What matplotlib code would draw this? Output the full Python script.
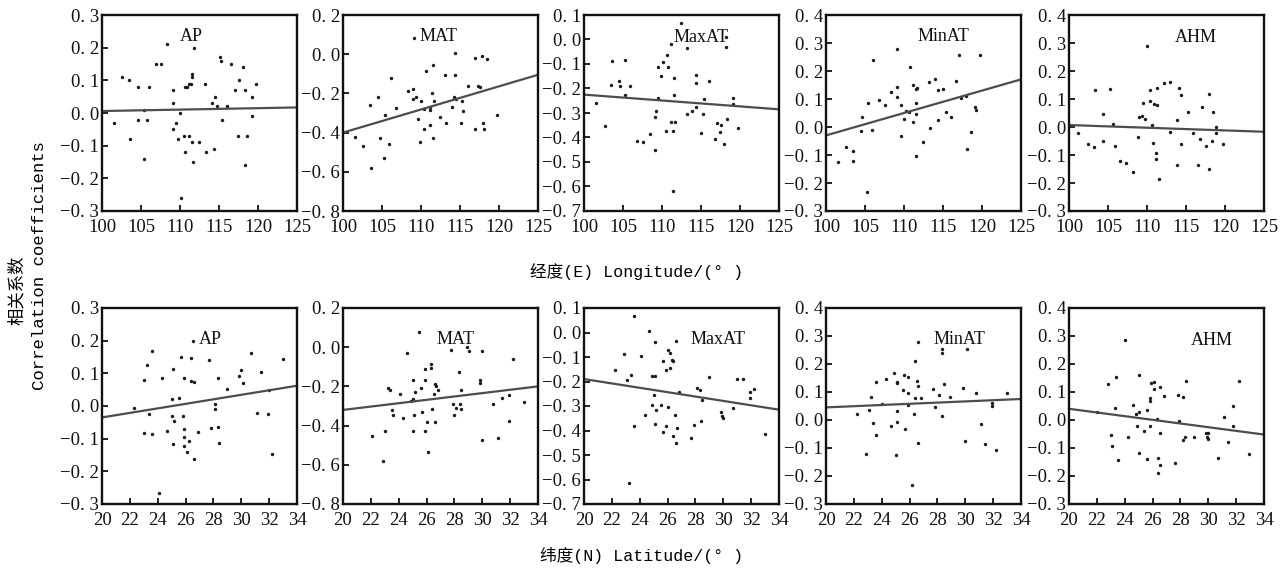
import numpy as np
import matplotlib
matplotlib.use("Agg")
import matplotlib.pyplot as plt
from matplotlib.ticker import FuncFormatter

# --- dados (correlacao vs longitude / latitude) ---
names = ["AP", "MAT", "MaxAT", "MinAT", "AHM"]

# longitude (E)
ap_lon_x = [101.5, 102.6, 103.5, 103.6, 104.6, 104.6, 105.4, 105.4, 105.8, 106.0, 106.9, 107.6, 108.3, 109.1, 109.1,
            109.1, 109.5, 109.7, 110.0, 110.1, 110.5, 110.6, 110.7, 110.9, 111.2, 111.2, 111.4, 111.5, 111.5, 111.6,
            111.7, 111.8, 112.4, 113.2, 113.3, 114.1, 114.4, 114.5, 114.8, 115.1, 115.3, 115.4, 116.0, 116.6, 117.0,
            117.4, 117.6, 118.1, 118.3, 118.3, 118.6, 119.2, 119.2, 119.8]
ap_lon_r = [-0.03, 0.11, 0.10, -0.08, 0.08, -0.02, 0.01, -0.14, -0.02, 0.08, 0.15, 0.15, 0.21, 0.07, 0.03,
            -0.05, -0.03, -0.08, 0.00, -0.26, -0.07, -0.12, 0.08, 0.08, -0.07, 0.09, 0.09, 0.12, 0.11, -0.09,
            -0.15, 0.20, -0.09, 0.09, -0.12, 0.03, -0.11, 0.05, 0.02, 0.17, 0.16, -0.02, 0.02, 0.15, 0.07,
            -0.07, 0.10, 0.14, 0.07, -0.16, -0.07, 0.05, -0.01, 0.09]

mat_lon_x = [109.1, 114.4, 116.9, 117.8, 118.5, 111.5, 110.6, 113.1, 114.4, 106.1, 116.0, 117.3, 117.5, 108.3, 109.0,
             111.4, 109.0, 109.4, 104.5, 110.0, 111.7, 114.2, 114.5, 115.3, 103.4, 106.8, 110.4, 111.2, 114.0, 115.4,
             105.4, 109.6, 111.1, 112.4, 111.2, 113.2, 115.1, 119.8, 110.4, 118.1, 118.0, 116.9, 111.6, 101.5, 104.7,
             109.9, 102.6, 105.9, 105.3, 103.6]
mat_lon_r = [0.085, 0.006, -0.017, -0.01, -0.027, -0.056, -0.087, -0.104, -0.107, -0.12, -0.163, -0.163, -0.167, -0.19, -0.18,
             -0.20, -0.23, -0.22, -0.22, -0.24, -0.24, -0.22, -0.23, -0.24, -0.26, -0.275, -0.28, -0.27, -0.27, -0.29,
             -0.31, -0.33, -0.285, -0.32, -0.36, -0.35, -0.35, -0.31, -0.38, -0.38, -0.35, -0.38, -0.425, -0.42, -0.425,
             -0.45, -0.47, -0.46, -0.53, -0.58]

maxat_lon_x = [112.4, 111.2, 113.2, 118.2, 118.2, 110.6, 103.6, 105.3, 110.1, 109.5, 110.8, 109.9, 111.5, 114.4, 114.4,
               116.0, 104.5, 104.6, 103.5, 105.9, 105.3, 111.5, 109.5, 115.4, 119.1, 119.1, 101.5, 114.4, 113.9, 113.2,
               115.3, 109.2, 109.1, 118.3, 111.2, 111.7, 117.0, 117.6, 117.4, 119.8, 102.7, 110.5, 111.4, 115.0, 108.4,
               106.8, 107.6, 109.1, 118.0, 116.8, 111.4]
maxat_lon_r = [0.067, -0.017, -0.035, 0.01, -0.03, -0.064, -0.089, -0.082, -0.092, -0.112, -0.112, -0.15, -0.157, -0.145, -0.177,
               -0.17, -0.17, -0.19, -0.187, -0.188, -0.225, -0.227, -0.238, -0.242, -0.238, -0.265, -0.26, -0.275, -0.293, -0.305,
               -0.306, -0.293, -0.318, -0.324, -0.336, -0.336, -0.34, -0.35, -0.377, -0.36, -0.352, -0.374, -0.374, -0.38, -0.386,
               -0.414, -0.42, -0.45, -0.427, -0.405, -0.617]

minat_lon_x = [109.1, 106.0, 117.1, 119.8, 110.8, 113.2, 114.0, 116.7, 111.2, 111.7, 111.5, 114.3, 115.0, 108.3, 109.1,
               109.1, 106.8, 105.4, 107.5, 111.5, 109.6, 110.2, 110.6, 111.6, 115.4, 118.0, 117.3, 119.1, 119.2, 104.6,
               110.0, 111.2, 114.4, 116.0, 104.5, 105.9, 113.3, 118.6, 109.6, 112.4, 102.6, 103.4, 118.1, 111.6, 101.5,
               103.5, 105.3]
minat_lon_r = [0.28, 0.241, 0.256, 0.256, 0.213, 0.160, 0.172, 0.164, 0.149, 0.141, 0.134, 0.131, 0.135, 0.124, 0.142,
               0.108, 0.096, 0.086, 0.079, 0.084, 0.080, 0.058, 0.052, 0.048, 0.054, 0.112, 0.104, 0.072, 0.061, 0.037,
               0.030, 0.017, 0.026, 0.035, -0.014, -0.010, -0.005, -0.017, -0.033, -0.055, -0.071, -0.084, -0.080, -0.105, -0.125,
               -0.123, -0.231]

ahm_lon_x = [110.0, 113.0, 112.2, 111.3, 114.1, 110.4, 103.3, 105.2, 118.0, 114.3, 109.5, 110.4, 110.9, 111.3, 117.1,
             104.3, 115.2, 118.5, 109.0, 109.4, 109.7, 113.8, 105.7, 110.6, 118.9, 101.2, 113.0, 115.9, 118.9, 116.8,
             108.9, 118.3, 104.3, 102.4, 103.2, 110.8, 114.3, 119.7, 105.9, 117.5, 111.2, 111.2, 106.6, 107.3, 108.2,
             113.9, 116.5, 117.9, 111.6]
ahm_lon_r = [0.289, 0.161, 0.158, 0.141, 0.141, 0.131, 0.131, 0.136, 0.118, 0.114, 0.087, 0.092, 0.083, 0.079, 0.070,
             0.048, 0.053, 0.053, 0.036, 0.039, 0.030, 0.024, 0.010, 0.007, -0.001, -0.021, -0.018, -0.021, -0.022, -0.043,
             -0.036, -0.050, -0.049, -0.061, -0.072, -0.058, -0.061, -0.059, -0.068, -0.068, -0.092, -0.116, -0.121, -0.130, -0.160,
             -0.136, -0.136, -0.151, -0.186]

# latitude (N)
ap_lat_x = [26.56, 23.6, 23.2, 23.05, 24.3, 25.1, 25.7, 26.4, 25.9, 26.4, 26.6, 27.7, 28.3, 29.0, 29.8,
            30.0, 30.1, 30.7, 31.4, 32.0, 33.0, 22.3, 23.4, 25.0, 25.5, 28.1, 28.1, 23.0, 23.6, 24.7,
            25.0, 25.2, 25.8, 25.9, 26.9, 27.8, 28.3, 25.1, 25.9, 25.9, 26.25, 26.1, 26.6, 28.4, 24.1,
            31.1, 31.9, 32.2]
ap_lat_r = [0.198, 0.169, 0.124, 0.080, 0.086, 0.113, 0.149, 0.148, 0.086, 0.078, 0.074, 0.140, 0.086, 0.052, 0.093,
            0.111, 0.069, 0.162, 0.103, 0.048, 0.145, -0.005, -0.025, 0.021, 0.023, -0.008, 0.006, -0.084, -0.087, -0.076,
            -0.030, -0.045, -0.031, -0.069, -0.079, -0.067, -0.064, -0.117, -0.094, -0.122, -0.108, -0.140, -0.163, -0.113, -0.265,
            -0.021, -0.025, -0.146]

mat_lat_x = [25.46, 29.06, 30.0, 27.74, 28.9, 24.6, 32.2, 26.3, 26.3, 25.9, 25.9, 25.0, 28.3, 29.8, 29.8,
             26.6, 26.7, 25.6, 26.8, 28.5, 23.2, 23.4, 24.1, 25.2, 26.5, 31.9, 31.4, 25.0, 24.9, 30.8,
             27.9, 28.4, 26.4, 23.5, 28.1, 28.5, 25.7, 33.0, 23.6, 24.3, 25.1, 28.0, 26.0, 26.6, 25.9,
             25.0, 31.9, 23.0, 22.1, 31.1, 30.0, 26.1, 22.9]
mat_lat_r = [0.079, -0.019, -0.019, -0.014, 0.003, -0.029, -0.061, -0.084, -0.104, -0.111, -0.165, -0.165, -0.124, -0.165, -0.182,
             -0.190, -0.199, -0.209, -0.219, -0.219, -0.207, -0.216, -0.240, -0.230, -0.240, -0.245, -0.258, -0.265, -0.277, -0.291,
             -0.291, -0.291, -0.313, -0.318, -0.311, -0.316, -0.330, -0.280, -0.347, -0.359, -0.347, -0.347, -0.381, -0.381, -0.428,
             -0.425, -0.379, -0.428, -0.452, -0.464, -0.474, -0.535, -0.583]

maxat_lat_x = [23.6, 24.7, 25.1, 26.6, 22.9, 24.1, 26.0, 26.2, 25.7, 26.3, 26.4, 26.2, 25.9, 22.2, 23.4,
               23.1, 24.9, 25.1, 29.0, 31.0, 31.4, 28.1, 28.3, 26.8, 32.2, 31.9, 31.9, 28.5, 25.0, 24.9,
               25.2, 25.5, 26.0, 30.7, 29.8, 29.9, 30.0, 26.5, 24.4, 25.1, 25.9, 26.7, 23.6, 27.9, 28.4,
               25.7, 26.4, 26.6, 27.7, 33.0, 23.2]
maxat_lat_r = [0.066, 0.006, -0.039, -0.033, -0.089, -0.094, -0.070, -0.083, -0.115, -0.111, -0.115, -0.145, -0.154, -0.153, -0.173,
               -0.192, -0.177, -0.177, -0.180, -0.191, -0.191, -0.225, -0.236, -0.244, -0.230, -0.242, -0.267, -0.276, -0.257, -0.294,
               -0.318, -0.297, -0.305, -0.310, -0.325, -0.342, -0.351, -0.338, -0.336, -0.374, -0.381, -0.388, -0.382, -0.376, -0.362,
               -0.407, -0.423, -0.453, -0.430, -0.415, -0.616]

minat_lat_x = [26.6, 28.3, 28.3, 30.1, 26.4, 24.9, 24.3, 23.6, 25.1, 25.1, 25.6, 25.9, 26.5, 26.6, 28.5,
               25.5, 25.9, 27.7, 29.8, 30.8, 33.0, 23.2, 28.1, 26.4, 26.8, 28.9, 24.0, 25.9, 31.9, 31.9,
               27.8, 23.1, 25.1, 22.2, 26.3, 28.3, 23.4, 24.7, 25.1, 31.1, 25.7, 23.6, 26.6, 30.0, 31.4,
               32.2, 22.9, 25.0, 26.2]
minat_lat_r = [0.280, 0.253, 0.240, 0.253, 0.212, 0.168, 0.147, 0.134, 0.137, 0.131, 0.162, 0.154, 0.139, 0.121, 0.127,
               0.106, 0.097, 0.109, 0.115, 0.097, 0.095, 0.083, 0.089, 0.077, 0.078, 0.083, 0.057, 0.052, 0.062, 0.049,
               0.047, 0.035, 0.033, 0.023, 0.023, 0.016, -0.012, -0.021, -0.008, -0.015, -0.033, -0.055, -0.081, -0.074, -0.085,
               -0.108, -0.123, -0.125, -0.232]

ahm_lat_x = [24.0, 25.0, 23.4, 22.8, 28.4, 32.2, 25.9, 26.1, 26.1, 26.5, 26.8, 27.8, 28.2, 25.8, 25.8,
             24.6, 31.8, 23.3, 25.6, 22.0, 25.0, 24.8, 31.1, 26.3, 27.9, 31.8, 24.9, 25.8, 25.4, 26.5,
             23.0, 24.2, 29.8, 30.0, 29.9, 30.0, 28.3, 29.0, 28.2, 23.1, 31.4, 25.0, 32.9, 26.4, 30.7,
             23.5, 25.6, 27.6, 26.5, 26.4]
ahm_lat_r = [0.284, 0.161, 0.153, 0.129, 0.140, 0.140, 0.133, 0.135, 0.111, 0.117, 0.084, 0.090, 0.083, 0.077, 0.068,
             0.053, 0.049, 0.043, 0.036, 0.027, 0.028, 0.020, 0.009, 0.005, -0.003, -0.022, -0.023, -0.021, -0.039, -0.046,
             -0.052, -0.059, -0.046, -0.046, -0.062, -0.067, -0.062, -0.062, -0.072, -0.093, -0.078, -0.117, -0.123, -0.134, -0.136,
             -0.143, -0.141, -0.154, -0.162, -0.191]

# retas de ajuste (valor no inicio e no fim do eixo x)
lon_line_start = [0.006, -0.40, -0.225, -0.03, 0.007]
lon_line_end = [0.017, -0.105, -0.285, 0.17, -0.017]
lat_line_start = [-0.035, -0.32, -0.19, 0.045, 0.04]
lat_line_end = [0.062, -0.20, -0.315, 0.075, -0.052]

# limites e ticks do eixo y de cada painel
y_lims = [(-0.3, 0.3), (-0.8, 0.2), (-0.7, 0.1), (-0.3, 0.4), (-0.3, 0.4)]
y_steps = [0.1, 0.2, 0.1, 0.1, 0.1]

lon_x = [ap_lon_x, mat_lon_x, maxat_lon_x, minat_lon_x, ahm_lon_x]
lon_r = [ap_lon_r, mat_lon_r, maxat_lon_r, minat_lon_r, ahm_lon_r]
lat_x = [ap_lat_x, mat_lat_x, maxat_lat_x, minat_lat_x, ahm_lat_x]
lat_r = [ap_lat_r, mat_lat_r, maxat_lat_r, minat_lat_r, ahm_lat_r]

# posicao dos rotulos dentro de cada painel (fracao do eixo)
lon_label_pos = [(0.46, 0.89), (0.49, 0.89), (0.60, 0.885), (0.60, 0.89), (0.65, 0.885)]
lat_label_pos = [(0.555, 0.84), (0.578, 0.84), (0.686, 0.84), (0.683, 0.84), (0.73, 0.835)]

W, H = 1288, 571
fig = plt.figure(figsize=(W / 100, H / 100), dpi=100)
fig.patch.set_facecolor("white")

TICK_FONT = "Liberation Serif"
MONO_CJK = ["Liberation Mono", "Noto Sans CJK SC"]


def fmt_y(v, pos):
    s = "%.1f" % abs(v)
    s = s.replace(".", ". ")
    if v < -1e-9:
        s = "\u2212" + s
    return s


def desenha_painel(left_px, top_px, xs, rs, ylim, ystep, xlim, xticks, y0, y1, name, lpos):
    ax = fig.add_axes([left_px / W, 1 - (top_px + 196) / H, 195 / W, 196 / H])
    ax.scatter(xs, rs, s=6, color="#1a1a1a", marker="o", linewidths=0)
    ax.plot(xlim, [y0, y1], color="#4d4d4d", lw=1.6)
    ax.set_xlim(xlim)
    ax.set_ylim(ylim)
    ax.set_xticks(xticks)
    n = int(round((ylim[1] - ylim[0]) / ystep))
    ax.set_yticks([ylim[0] + i * ystep for i in range(n + 1)])
    ax.yaxis.set_major_formatter(FuncFormatter(fmt_y))
    ax.tick_params(direction="in", length=4, width=1.3, labelsize=13.5, colors="#111111")
    ax.tick_params(axis="x", pad=6)
    ax.tick_params(axis="y", pad=2)
    for lab in ax.get_xticklabels() + ax.get_yticklabels():
        lab.set_family(TICK_FONT)
    for sp in ax.spines.values():
        sp.set_linewidth(1.7)
        sp.set_color("#111111")
    ax.text(lpos[0], lpos[1], name, transform=ax.transAxes, ha="center", va="center",
            fontsize=13, family=TICK_FONT, color="#111111")
    return ax


lefts = [102, 343, 584, 826, 1069]
for i in range(5):
    desenha_painel(lefts[i], 15, lon_x[i], lon_r[i], y_lims[i], y_steps[i], (100, 125),
                   [100, 105, 110, 115, 120, 125], lon_line_start[i], lon_line_end[i], names[i], lon_label_pos[i])
    desenha_painel(lefts[i], 308, lat_x[i], lat_r[i], y_lims[i], y_steps[i], (20, 34),
                   list(range(20, 35, 2)), lat_line_start[i], lat_line_end[i], names[i], lat_label_pos[i])

# rotulos dos eixos
fig.text(637 / W, 1 - 272 / H, "经度(E) Longitude/(° )", ha="center", va="center", fontsize=12,
         family=MONO_CJK)
fig.text(642 / W, 1 - 556 / H, "纬度(N) Latitude/(° )", ha="center", va="center", fontsize=12,
         family=MONO_CJK)
fig.text(17 / W, 1 - 290 / H, "相关系数", rotation=90, ha="center", va="center", fontsize=12.5,
         family=["Noto Sans CJK SC"])
fig.text(40 / W, 1 - 266 / H, "Correlation coefficients", rotation=90, ha="center", va="center",
         fontsize=12.5, family=MONO_CJK)

plt.savefig("out.png", dpi=100, facecolor="white")
plt.close()
